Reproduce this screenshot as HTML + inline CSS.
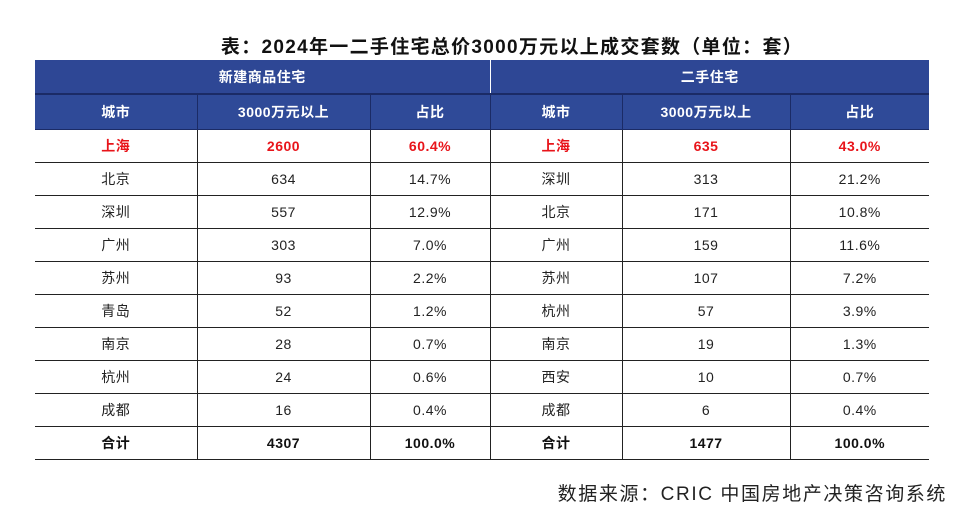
<!DOCTYPE html>
<html><head><meta charset="utf-8"><style>
body{margin:0;width:971px;height:519px;background:#fff;font-family:"Liberation Sans","Noto Sans CJK SC",sans-serif;position:relative;overflow:hidden}
#title{position:absolute;left:0;width:1024px;top:32px;text-align:center;font-size:19px;font-weight:bold;color:#111;letter-spacing:1.3px}
table{position:absolute;left:35px;top:60px;border-collapse:collapse;table-layout:fixed;width:894px}
td{text-align:center;font-size:14px;color:#222;height:32px;padding:0;border:1px solid #222;letter-spacing:0.5px}
tr td:first-child{border-left:none}
tr td:last-child{border-right:none}
.h1 td{background:#2e4795;color:#fff;font-weight:bold;height:33px;border-color:#fff;border-top:none;border-bottom:2px solid #1b2b66}
.h2 td{background:#2f4a98;color:#fff;font-weight:bold;height:34px;border-color:#1b2b66;border-top:none}
.red td{color:#e8141a;font-weight:bold}
.tot td{font-weight:bold;color:#111}
#src{position:absolute;right:24px;top:479px;font-size:19px;color:#222;letter-spacing:1.6px}
</style></head><body>
<div id="title">表：2024年一二手住宅总价3000万元以上成交套数（单位：套）</div>
<table>
<colgroup><col style="width:162px"><col style="width:173px"><col style="width:120px"><col style="width:132px"><col style="width:168px"><col style="width:139px"></colgroup>
<tr class="h1"><td colspan="3">新建商品住宅</td><td colspan="3">二手住宅</td></tr>
<tr class="h2"><td>城市</td><td>3000万元以上</td><td>占比</td><td>城市</td><td>3000万元以上</td><td>占比</td></tr>
<tr class="red"><td>上海</td><td>2600</td><td>60.4%</td><td>上海</td><td>635</td><td>43.0%</td></tr>
<tr><td>北京</td><td>634</td><td>14.7%</td><td>深圳</td><td>313</td><td>21.2%</td></tr>
<tr><td>深圳</td><td>557</td><td>12.9%</td><td>北京</td><td>171</td><td>10.8%</td></tr>
<tr><td>广州</td><td>303</td><td>7.0%</td><td>广州</td><td>159</td><td>11.6%</td></tr>
<tr><td>苏州</td><td>93</td><td>2.2%</td><td>苏州</td><td>107</td><td>7.2%</td></tr>
<tr><td>青岛</td><td>52</td><td>1.2%</td><td>杭州</td><td>57</td><td>3.9%</td></tr>
<tr><td>南京</td><td>28</td><td>0.7%</td><td>南京</td><td>19</td><td>1.3%</td></tr>
<tr><td>杭州</td><td>24</td><td>0.6%</td><td>西安</td><td>10</td><td>0.7%</td></tr>
<tr><td>成都</td><td>16</td><td>0.4%</td><td>成都</td><td>6</td><td>0.4%</td></tr>
<tr class="tot"><td>合计</td><td>4307</td><td>100.0%</td><td>合计</td><td>1477</td><td>100.0%</td></tr>
</table>
<div id="src">数据来源：CRIC 中国房地产决策咨询系统</div>
</body></html>
